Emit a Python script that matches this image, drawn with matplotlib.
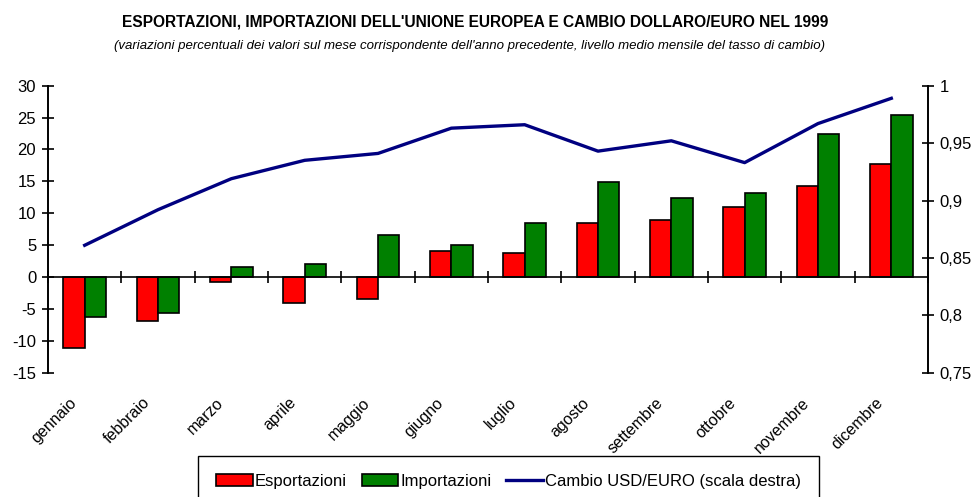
import numpy as np
import matplotlib.pyplot as plt
import matplotlib.transforms as mtransforms

plt.rcParams['font.family'] = ['Liberation Sans', 'DejaVu Sans']
plt.rcParams['axes.unicode_minus'] = False

mesi = ['gennaio', 'febbraio', 'marzo', 'aprile', 'maggio', 'giugno',
        'luglio', 'agosto', 'settembre', 'ottobre', 'novembre', 'dicembre']
esportazioni = [-11.1, -6.95, -0.7, -4.1, -3.5, 4.05, 3.75, 8.4, 8.9, 10.95, 14.25, 17.8]
importazioni = [-6.3, -5.7, 1.65, 2.05, 6.55, 5.0, 8.55, 14.95, 12.35, 13.1, 22.5, 25.35]
cambio = [0.861, 0.892, 0.919, 0.935, 0.941, 0.963, 0.966, 0.943, 0.952, 0.933, 0.967, 0.989]

titolo = "ESPORTAZIONI, IMPORTAZIONI DELL'UNIONE EUROPEA E CAMBIO DOLLARO/EURO NEL 1999"
sottotitolo = ("(variazioni percentuali dei valori sul mese corrispondente dell'anno precedente, "
               "livello medio mensile del tasso di cambio)")

x = np.arange(len(mesi))
w = 0.29

fig = plt.figure(figsize=(9.76, 4.97), dpi=100)
ax = fig.add_axes([0.0492, 0.25, 0.9016, 0.5776])
ax2 = ax.twinx()

b1 = ax.bar(x - w / 2, esportazioni, w, color='#ff0000', edgecolor='black', linewidth=1.2,
            label='Esportazioni', zorder=2)
b2 = ax.bar(x + w / 2, importazioni, w, color='#008000', edgecolor='black', linewidth=1.2,
            label='Importazioni', zorder=2)
l1, = ax2.plot(x, cambio, color='#000080', linewidth=2.4, label='Cambio USD/EURO (scala destra)')

ax.set_xlim(-0.5, len(mesi) - 0.5)
ax.set_ylim(-15, 30)
ax.set_yticks(np.arange(-15, 31, 5))
ax2.set_ylim(0.75, 1.0)
ax2.set_yticks([0.75, 0.8, 0.85, 0.9, 0.95, 1.0])
ax2.set_yticklabels(['0,75', '0,8', '0,85', '0,9', '0,95', '1'])

for a in (ax, ax2):
    a.spines['top'].set_visible(False)
    a.spines['bottom'].set_visible(False)
    a.spines['left'].set_linewidth(1.2)
    a.spines['right'].set_linewidth(1.2)
    a.tick_params(axis='y', direction='inout', length=9, width=1.2, labelsize=12)
ax.tick_params(axis='y', pad=4)
ax2.tick_params(axis='y', pad=4)

# linea dello zero con le tacche fra i mesi
ax.axhline(0, color='black', linewidth=1.2, zorder=3)
zero = ax.secondary_xaxis(1 / 3)
zero.set_xticks(np.arange(-0.5, len(mesi), 1))
zero.tick_params(direction='inout', length=9, width=1.2, labeltop=False, labelbottom=False)
zero.spines['top'].set_visible(False)
zero.spines['bottom'].set_visible(False)

ax.set_xticks(x)
ax.set_xticklabels(mesi, rotation=45, ha='right', va='top', rotation_mode='anchor', fontsize=11.5)
ax.tick_params(axis='x', length=0, pad=16)
shift = mtransforms.ScaledTranslation(-16 / 100, 0, fig.dpi_scale_trans)
for lab in ax.get_xticklabels():
    lab.set_transform(lab.get_transform() + shift)

fig.text(0.487, 0.955, titolo, ha='center', va='center', fontsize=11.2, fontweight='bold')
fig.text(0.481, 0.908, sottotitolo, ha='center', va='center', fontsize=9.5, style='italic')

leg = fig.legend([b1, b2, l1], [b1.get_label(), b2.get_label(), l1.get_label()],
                 loc='upper center', bbox_to_anchor=(0.521, 0.1), ncol=3, fontsize=12,
                 frameon=True, fancybox=False, edgecolor='black', framealpha=1,
                 handlelength=2.2, handletextpad=0.1, columnspacing=0.9, borderpad=1.1)
leg.get_frame().set_linewidth(1.0)

fig.savefig('out.png', dpi=100)
